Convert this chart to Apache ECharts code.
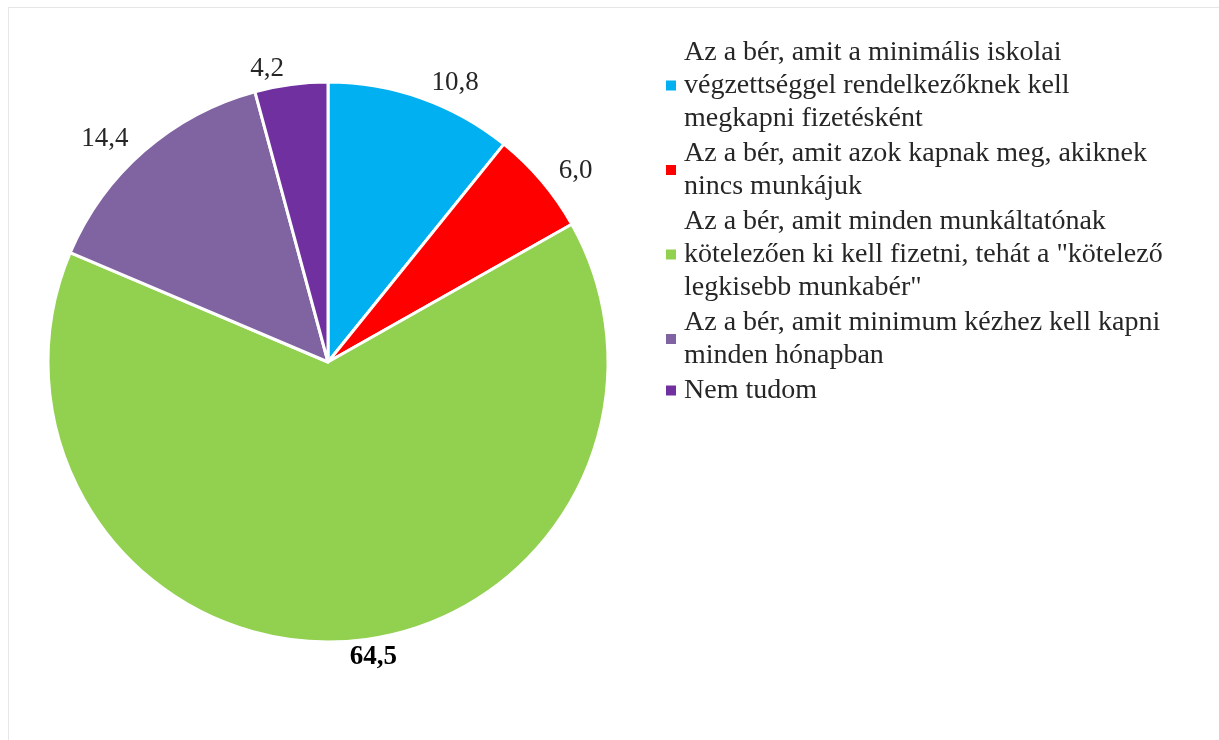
<!DOCTYPE html>
<html>
<head>
<meta charset="utf-8">
<script src="https://cdn.jsdelivr.net/npm/echarts@6/dist/echarts.min.js"></script>
<style>
    html, body { margin: 0; padding: 0; background: #fff; }
    #frame {
        position: absolute;
        left: 8px;
        top: 7px;
        width: 1230px;
        height: 760px;
        border: 1px solid #e6e6e6;
    }
    #chart {
        position: absolute;
        left: 0;
        top: 0;
        width: 1219px;
        height: 740px;
    }
</style>
</head>
<body>
<div id="frame"></div>
<div id="chart"></div>
<script>
// adatok
const categories = [
    'Az a bér, amit a minimális iskolai\nvégzettséggel rendelkezőknek kell\nmegkapni fizetésként',
    'Az a bér, amit azok kapnak meg, akiknek\nnincs munkájuk',
    'Az a bér, amit minden munkáltatónak\nkötelezően ki kell fizetni, tehát a "kötelező\nlegkisebb munkabér"',
    'Az a bér, amit minimum kézhez kell kapni\nminden hónapban',
    'Nem tudom'
];
const values = [10.8, 6.0, 64.5, 14.4, 4.2];
const colors = ['#00B0F0', '#FF0000', '#92D050', '#8064A2', '#7030A0'];

document.addEventListener('DOMContentLoaded', () => {
    initPie();
});

function initPie() {
    const chartDom = document.getElementById('chart');
    const myChart = echarts.init(chartDom);

    const font = '"Liberation Serif", "DejaVu Serif", serif';

    const option = {
        backgroundColor: 'transparent',
        color: colors,
        legend: {
            orient: 'vertical',
            left: 659,
            top: 31,
            itemWidth: 12,
            itemHeight: 12,
            itemGap: 2,
            icon: 'rect',
            textStyle: {
                fontFamily: font,
                fontSize: 28,
                lineHeight: 33,
                color: '#262626',
                padding: [0, 0, 0, 2]
            },
            data: categories
        },
        series: [{
            type: 'pie',
            center: [328, 362],
            radius: 280,
            startAngle: 90,
            clockwise: true,
            avoidLabelOverlap: false,
            itemStyle: {
                borderColor: '#fff',
                borderWidth: 3
            },
            label: {
                show: true,
                position: 'outside',
                fontFamily: font,
                fontSize: 27,
                color: '#262626',
                formatter: (p) => p.value.toFixed(1).replace('.', ',')
            },
            labelLine: {
                show: false,
                length: 16,
                length2: 0
            },
            emphasis: { disabled: true },
            data: categories.map((name, i) => ({
                name: name,
                value: values[i],
                label: i === 2 ? { fontWeight: 'bold', color: '#000' } : undefined
            }))
        }]
    };

    myChart.setOption(option);
}
</script>
</body>
</html>
